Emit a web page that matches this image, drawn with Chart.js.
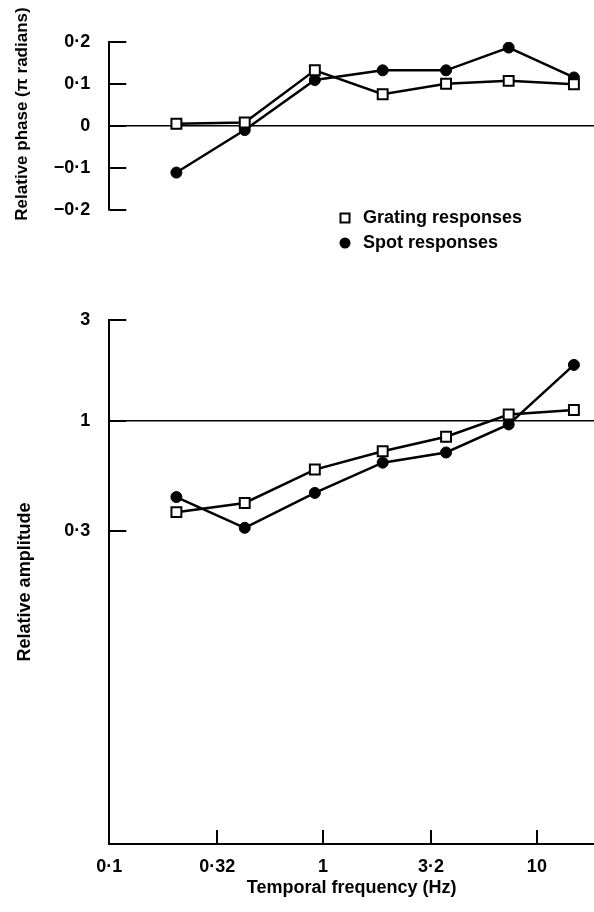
<!DOCTYPE html>
<html><head><meta charset="utf-8">
<script src="https://cdn.jsdelivr.net/npm/chart.js@4/dist/chart.umd.min.js"></script>
<style>
html,body{margin:0;padding:0;background:#fff;}
#wrap{position:relative;width:594px;height:912px;overflow:hidden;}
canvas{position:absolute;left:0;display:block;}
</style></head><body>
<div id="wrap">
<canvas id="phase" width="594" height="290" style="top:0"></canvas>
<canvas id="amp" width="594" height="622" style="top:290px"></canvas>
</div>
<script>
// ---- data ----
const frequencies = [0.206, 0.43, 0.915, 1.9, 3.76, 7.38, 14.9];
const phaseGrating = [0.005, 0.008, 0.132, 0.075, 0.100, 0.107, 0.099];
const phaseSpot = [-0.111, -0.010, 0.109, 0.132, 0.132, 0.186, 0.115];
const ampGrating = [0.370, 0.409, 0.588, 0.718, 0.840, 1.071, 1.124];
const ampSpot = [0.436, 0.312, 0.456, 0.634, 0.708, 0.961, 1.836];
const seriesLabels = ['Grating responses', 'Spot responses'];
const xTickValues = [0.1, 0.32, 1, 3.2, 10];
const xTickLabels = ['0·1', '0·32', '1', '3·2', '10'];
const phaseTickValues = [-0.2, -0.1, 0, 0.1, 0.2];
const phaseTickLabels = ['\u22120·2', '\u22120·1', '0', '0·1', '0·2'];
const ampTickValues = [0.3, 1, 3];
const ampTickLabels = ['0·3', '1', '3'];
const xTitle = 'Temporal frequency (Hz)';
const phaseTitle = 'Relative phase (\u03c0 radians)';
const ampTitle = 'Relative amplitude';

// ---- styling ----
const FONT = '"Liberation Sans", Arial, Helvetica, sans-serif';
Chart.defaults.font.family = FONT;
Chart.defaults.font.size = 18;
Chart.defaults.font.weight = 'bold';
Chart.defaults.color = '#000';

function pts(ys) { return frequencies.map((f, i) => ({x: f, y: ys[i]})); }

function gratingDs(ys) {
  return {label: seriesLabels[0], data: pts(ys), showLine: true,
    borderColor: '#000', borderWidth: 2.5, tension: 0,
    pointStyle: 'rect', pointRadius: 7, pointHoverRadius: 7,
    pointBackgroundColor: '#fff', pointBorderColor: '#000', pointBorderWidth: 2};
}
function spotDs(ys) {
  return {label: seriesLabels[1], data: pts(ys), showLine: true,
    borderColor: '#000', borderWidth: 2.5, tension: 0,
    pointStyle: 'circle', pointRadius: 5.5, pointHoverRadius: 5.5,
    pointBackgroundColor: '#000', pointBorderColor: '#000', pointBorderWidth: 1};
}

// inward tick marks
const inwardTicks = {
  id: 'inwardTicks',
  afterDraw(chart, args, opts) {
    const ctx = chart.ctx, a = chart.chartArea;
    ctx.save();
    ctx.strokeStyle = '#000';
    ctx.lineWidth = 2;
    ctx.beginPath();
    (opts.y || []).forEach(v => {
      const py = Math.round(chart.scales.y.getPixelForValue(v));
      ctx.moveTo(a.left, py); ctx.lineTo(a.left + 17, py);
    });
    (opts.x || []).forEach(v => {
      const px = Math.round(chart.scales.x.getPixelForValue(v));
      ctx.moveTo(px, a.bottom); ctx.lineTo(px, a.bottom - 14);
    });
    ctx.stroke();
    ctx.restore();
  }
};

// stacked legend and y title of the phase panel
const phaseExtras = {
  id: 'phaseExtras',
  afterDraw(chart) {
    const ctx = chart.ctx;
    const items = chart.data.datasets;
    const x0 = 345, y0 = 218, dy = 25;
    ctx.save();
    ctx.font = 'bold 18px ' + FONT;
    ctx.textBaseline = 'middle';
    ctx.textAlign = 'left';
    items.forEach((ds, i) => {
      const y = y0 + i * dy;
      ctx.lineWidth = 2;
      ctx.strokeStyle = '#000';
      if (ds.pointStyle === 'rect') {
        ctx.fillStyle = '#fff';
        ctx.fillRect(x0 - 4.5, y - 4.5, 9, 9);
        ctx.strokeRect(x0 - 4.5, y - 4.5, 9, 9);
      } else {
        ctx.fillStyle = '#000';
        ctx.beginPath(); ctx.arc(x0, y, 5.5, 0, Math.PI * 2); ctx.fill();
      }
      ctx.fillStyle = '#000';
      ctx.fillText(ds.label, x0 + 18, y);
    });
    // rotated y-axis title
    ctx.font = 'bold 17px ' + FONT;
    ctx.textAlign = 'center';
    ctx.translate(22, 114);
    ctx.rotate(-Math.PI / 2);
    ctx.fillText(phaseTitle, 0, 0);
    ctx.restore();
  }
};

const zeroLine = v => c => (c.tick && c.tick.value === v) ? '#000' : 'rgba(0,0,0,0)';

new Chart(document.getElementById('phase'), {
  type: 'scatter',
  data: {datasets: [gratingDs(phaseGrating), spotDs(phaseSpot)]},
  options: {
    responsive: false, animation: false,
    layout: {autoPadding: false, padding: {top: 41.7, bottom: 80, left: 0, right: 0}},
    plugins: {legend: {display: false}, tooltip: {enabled: false},
      inwardTicks: {y: phaseTickValues}},
    scales: {
      x: {type: 'logarithmic', min: 0.1, max: 18.5, display: false},
      y: {type: 'linear', min: -0.2, max: 0.2,
        afterBuildTicks: s => { s.ticks = phaseTickValues.map(v => ({value: v})); },
        afterFit: s => { s.width = 109.3; },
        ticks: {callback: (v, i) => phaseTickLabels[i], padding: 19, color: '#000'},
        grid: {drawTicks: false, color: zeroLine(0), lineWidth: 1.6},
        border: {display: true, color: '#000', width: 2},
        title: {display: false}
      }
    }
  },
  plugins: [inwardTicks, phaseExtras]
});

new Chart(document.getElementById('amp'), {
  type: 'scatter',
  data: {datasets: [gratingDs(ampGrating), spotDs(ampSpot)]},
  options: {
    responsive: false, animation: false,
    layout: {autoPadding: false, padding: {top: 29.3, bottom: 0, left: 0, right: 0}},
    plugins: {legend: {display: false}, tooltip: {enabled: false},
      inwardTicks: {y: ampTickValues, x: xTickValues.slice(1)}},
    scales: {
      x: {type: 'logarithmic', min: 0.1, max: 18.5,
        afterBuildTicks: s => { s.ticks = xTickValues.map(v => ({value: v})); },
        afterFit: s => { s.height = 68; },
        ticks: {callback: (v, i) => xTickLabels[i], padding: 12, autoSkip: false, maxRotation: 0, color: '#000'},
        grid: {drawTicks: false, color: 'rgba(0,0,0,0)'},
        border: {display: true, color: '#000', width: 2},
        title: {display: true, text: xTitle, color: '#000', padding: {top: 0, bottom: 13}}
      },
      y: {type: 'logarithmic', min: 0.01, max: 3,
        afterBuildTicks: s => { s.ticks = ampTickValues.map(v => ({value: v})); },
        afterFit: s => { s.width = 109.3; },
        ticks: {callback: (v, i) => ampTickLabels[i], padding: 19, color: '#000'},
        grid: {drawTicks: false, color: zeroLine(1), lineWidth: 1.6},
        border: {display: true, color: '#000', width: 2},
        title: {display: true, text: ampTitle, color: '#000', padding: {top: 14, bottom: 0}}
      }
    }
  },
  plugins: [inwardTicks]
});
</script>
</body></html>
